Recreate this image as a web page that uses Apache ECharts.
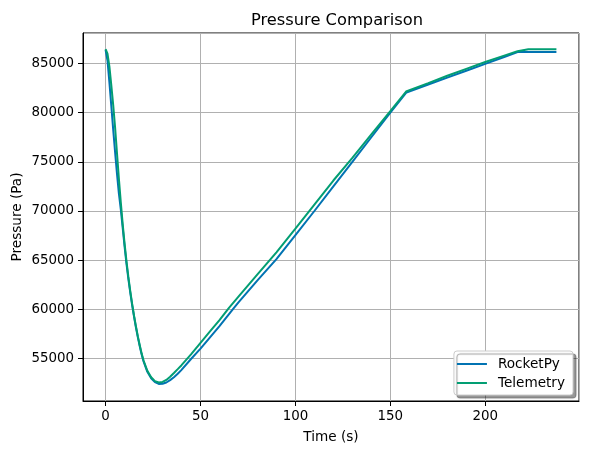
<!DOCTYPE html>
<html>
<head>
<meta charset="utf-8">
<script src="https://cdn.jsdelivr.net/npm/echarts@6/dist/echarts.min.js"></script>
<style>
  html, body { margin: 0; padding: 0; background: #fff; }
  #chart { width: 589px; height: 455px; }
</style>
</head>
<body>
<div id="chart"></div>
<script>
// simulated (RocketPy) pressure vs time
const rocketpyTime = [0, 1, 2, 3, 4, 5, 6, 7, 8, 9, 10, 11, 12, 13, 14, 15, 16, 17, 18, 19, 20, 22, 24, 26, 28, 29, 30, 32, 34, 36, 38, 40, 45, 50, 55, 60, 67, 70, 80, 90, 100, 110, 120, 130, 140, 150, 158.5, 170, 180, 190, 200, 210, 217.4, 237.5]
const rocketpyPressure = [86380, 85300, 83100, 80700, 78300, 76000, 73800, 71800, 70200, 68300, 66400, 64650, 63100, 61700, 60400, 59250, 58150, 57150, 56250, 55400, 54700, 53650, 53000, 52600, 52420, 52400, 52430, 52560, 52800, 53100, 53450, 53850, 54950, 56000, 57150, 58300, 60000, 60700, 62950, 65100, 67550, 70000, 72500, 75000, 77500, 80000, 82050, 82860, 83560, 84260, 84960, 85660, 86180, 86180]

// measured (Telemetry) pressure vs time
const telemetryTime = [0, 1, 2, 3, 4, 5, 6, 7, 8, 9, 10, 11, 12, 13, 14, 15, 16, 17, 18, 19, 20, 22, 24, 26, 28, 30, 32, 34, 36, 38, 40, 45, 50, 55, 60, 65, 70, 80, 90, 100, 110, 120, 130, 140, 150, 158.3, 170, 180, 190, 200, 210, 217, 222.7, 237.5]
const telemetryPressure = [86450, 86000, 84700, 82800, 80800, 78500, 75900, 73300, 70900, 68700, 66700, 64900, 63300, 61850, 60550, 59350, 58250, 57250, 56350, 55500, 54800, 53750, 53100, 52700, 52560, 52620, 52820, 53150, 53530, 53920, 54320, 55420, 56600, 57750, 58900, 60150, 61300, 63550, 65800, 68200, 70650, 73100, 75400, 77800, 80150, 82150, 83000, 83750, 84450, 85150, 85800, 86250, 86450, 86450]

const font = 'DejaVu Sans'
const chart = echarts.init(document.getElementById('chart'))

const pair = (xs, ys) => xs.map((x, i) => [x, ys[i]])

const option = {
  animation: false,
  backgroundColor: '#fff',
  title: {
    text: 'Pressure Comparison',
    left: 332,
    top: 8,
    textAlign: 'center',
    textStyle: { fontFamily: font, fontSize: 16.3, fontWeight: 'normal', color: '#000' }
  },
  grid: {
    left: 83, top: 33, width: 496, height: 368,
    containLabel: false,
    outerBoundsMode: 'none',
    show: true, borderColor: '#000', borderWidth: 1, backgroundColor: 'transparent'
  },
  legend: {
    orient: 'vertical',
    right: 16,
    bottom: 60,
    padding: [6, 8, 5, 3],
    itemGap: 5,
    itemWidth: 30,
    itemHeight: 2,
    icon: 'rect',
    backgroundColor: '#fff',
    borderColor: '#cccccc',
    borderWidth: 1,
    borderRadius: 3,
    shadowColor: 'rgba(0,0,0,0.4)',
    shadowBlur: 1,
    shadowOffsetX: 3,
    shadowOffsetY: 3,
    textStyle: { fontFamily: font, fontSize: 13.6, color: '#000', padding: [0, 0, 0, 6] },
    data: ['RocketPy', 'Telemetry']
  },
  xAxis: {
    type: 'value',
    min: -11.9,
    max: 249.4,
    splitNumber: 5,
    name: 'Time (s)',
    nameLocation: 'middle',
    nameGap: 29,
    nameMoveOverlap: false,
    nameTextStyle: { fontFamily: font, fontSize: 13.6, color: '#000' },
    axisLine: { show: true, onZero: false, lineStyle: { color: '#000', width: 1 } },
    axisTick: { show: true, length: 5, lineStyle: { color: '#000' } },
    axisLabel: {
      showMinLabel: false, showMaxLabel: false,
      fontFamily: font, fontSize: 13.4, color: '#000', margin: 9,
      formatter: v => String(v)
    },
    splitLine: { show: true, lineStyle: { color: '#b0b0b0', width: 1 } }
  },
  yAxis: {
    type: 'value',
    min: 50680,
    max: 88100,
    splitNumber: 8,
    name: 'Pressure (Pa)',
    nameLocation: 'middle',
    nameGap: 59,
    nameMoveOverlap: false,
    nameTextStyle: { fontFamily: font, fontSize: 13.6, color: '#000' },
    axisLine: { show: true, onZero: false, lineStyle: { color: '#000', width: 1 } },
    axisTick: { show: true, length: 5, lineStyle: { color: '#000' } },
    axisLabel: {
      showMinLabel: false, showMaxLabel: false,
      fontFamily: font, fontSize: 13.4, color: '#000', margin: 9,
      formatter: v => String(v)
    },
    splitLine: { show: true, lineStyle: { color: '#b0b0b0', width: 1 } }
  },
  series: [
    {
      name: 'RocketPy',
      type: 'line',
      symbol: 'none',
      smooth: false,
      lineStyle: { color: '#0173b2', width: 2 },
      itemStyle: { color: '#0173b2' },
      data: pair(rocketpyTime, rocketpyPressure)
    },
    {
      name: 'Telemetry',
      type: 'line',
      symbol: 'none',
      smooth: false,
      lineStyle: { color: '#029e73', width: 2 },
      itemStyle: { color: '#029e73' },
      data: pair(telemetryTime, telemetryPressure)
    }
  ]
}
chart.setOption(option)
</script>
</body>
</html>
